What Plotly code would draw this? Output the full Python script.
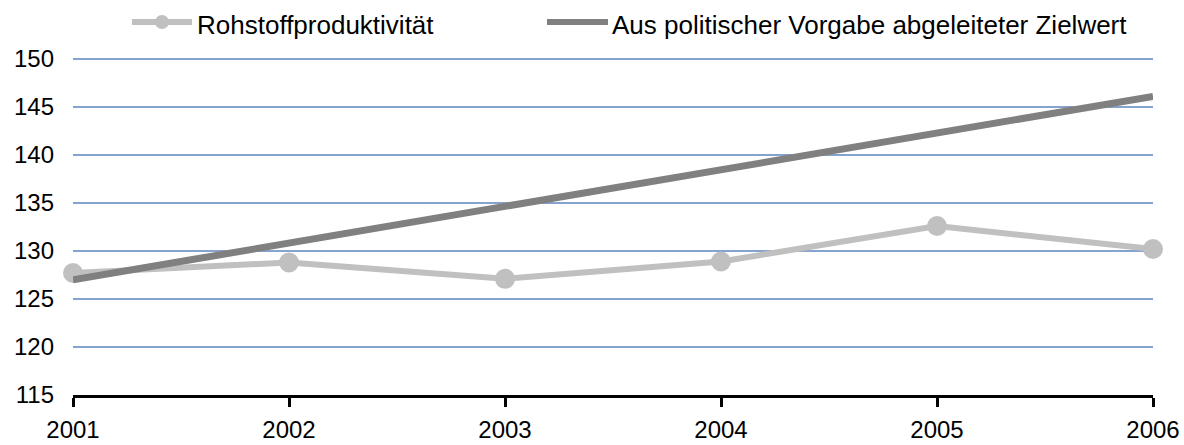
import plotly.graph_objects as go

years = [2001, 2002, 2003, 2004, 2005, 2006]
rohstoff = [127.7, 128.8, 127.1, 128.9, 132.6, 130.2]
zielwert = [127.0, 130.8, 134.7, 138.5, 142.3, 146.1]
y_ticks = [115, 120, 125, 130, 135, 140, 145, 150]
names = ['Rohstoffproduktivität', 'Aus politischer Vorgabe abgeleiteter Zielwert']

LIGHT = '#C0C0C0'
DARK = '#808080'

fig = go.Figure()

fig.add_trace(go.Scatter(
    x=years, y=rohstoff,
    mode='lines+markers',
    name=names[0],
    line=dict(color=LIGHT, width=6),
    marker=dict(size=20, color=LIGHT),
    cliponaxis=False
))

fig.add_trace(go.Scatter(
    x=years, y=zielwert,
    mode='lines',
    name=names[1],
    line=dict(color=DARK, width=7),
    cliponaxis=False
))

# hand-made legend above the plot (longer symbols than plotly's own)
# plot area starts at x=73 and is 1080px wide
def px_x(p):
    return (p - 73) / 1080

SYM_Y = 1.0 + 35 / 338
TXT_Y = 1.0 + 32 / 338

fig.add_shape(type='line', xref='paper', yref='paper',
              x0=px_x(132), x1=px_x(192), y0=SYM_Y, y1=SYM_Y,
              line=dict(color=LIGHT, width=6))
fig.add_shape(type='circle', xref='paper', yref='paper',
              xsizemode='pixel', ysizemode='pixel',
              xanchor=px_x(162), yanchor=SYM_Y,
              x0=-7, x1=7, y0=-7, y1=7,
              fillcolor=LIGHT, line=dict(color=LIGHT, width=0))
fig.add_shape(type='line', xref='paper', yref='paper',
              x0=px_x(547), x1=px_x(608), y0=SYM_Y, y1=SYM_Y,
              line=dict(color=DARK, width=6))
fig.add_annotation(text=names[0], xref='paper', yref='paper',
                   x=px_x(195), y=TXT_Y, xanchor='left', yanchor='middle',
                   showarrow=False, font=dict(size=26))
fig.add_annotation(text=names[1], xref='paper', yref='paper',
                   x=px_x(610), y=TXT_Y, xanchor='left', yanchor='middle',
                   showarrow=False, font=dict(size=26))

fig.update_layout(
    width=1184, height=445,
    margin=dict(l=73, r=31, t=57, b=50),
    paper_bgcolor='white',
    plot_bgcolor='white',
    font=dict(family='Liberation Sans, Arial', size=24, color='black'),
    showlegend=False,
    xaxis=dict(
        range=[2001, 2006],
        tickvals=years,
        ticktext=[str(y) for y in years],
        showgrid=False,
        zeroline=False,
        automargin=False,
        ticklabeloverflow='allow',
        showline=True, linecolor='black', linewidth=3,
        ticks='outside', tickcolor='black', tickwidth=3, ticklen=9,
        ticklabelstandoff=2
    ),
    yaxis=dict(
        range=[115, 150.2],
        tickvals=y_ticks,
        showgrid=True, gridcolor='#86A2CF', gridwidth=2,
        zeroline=False,
        automargin=False,
        showline=False,
        ticks='', ticklabelstandoff=18
    )
)

# drop the default body margin so the figure fills the window exactly
fig.write_html("out.html", config={'displayModeBar': False},
               post_script="document.body.style.margin='0';")
